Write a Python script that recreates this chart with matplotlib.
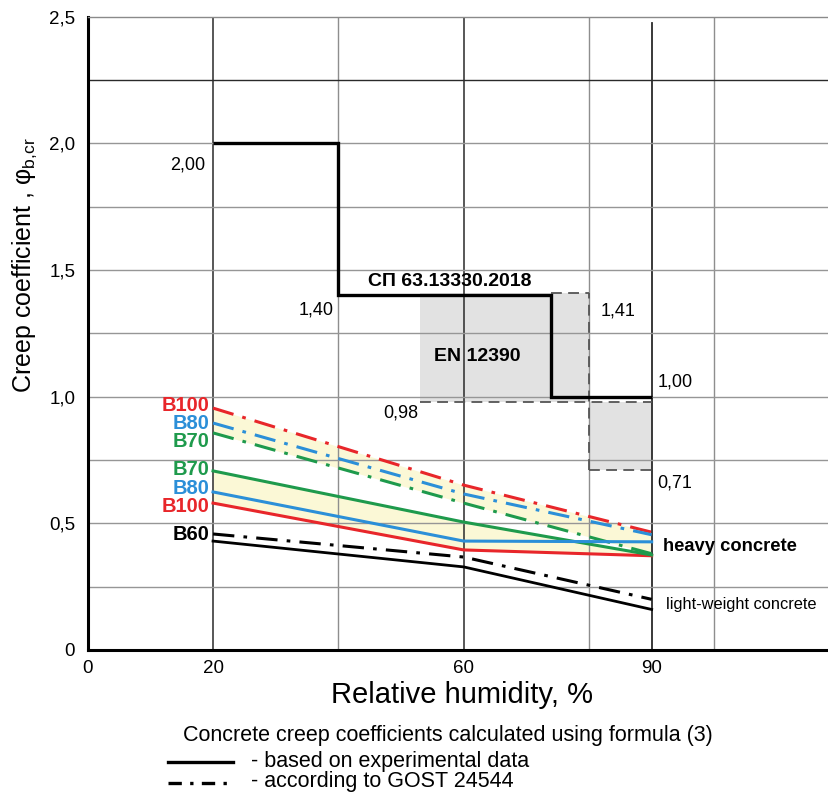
import matplotlib
matplotlib.use("Agg")
import matplotlib.pyplot as plt
from matplotlib.lines import Line2D

plt.rcParams['font.family'] = ['Liberation Sans', 'DejaVu Sans']

# relative humidity, %
hum = [20, 60, 90]

# formula (3), experimental data
b70_exp = [0.707, 0.505, 0.375]
b80_exp = [0.624, 0.43, 0.427]
b100_exp = [0.58, 0.395, 0.372]
b60_exp = [0.43, 0.328, 0.16]

# according to GOST 24544
b100_gost = [0.955, 0.651, 0.465]
b80_gost = [0.896, 0.616, 0.455]
b70_gost = [0.857, 0.58, 0.38]
b60_gost = [0.458, 0.367, 0.2]

# СП 63.13330.2018 step
sp_edges = [20, 40, 74, 90]
sp_vals = [2.0, 1.4, 1.0]

# EN 12390 ranges
en_edges = [53, 80, 90]
en_hi = [1.41, 0.98]
en_lo = [0.98, 0.71]

red = '#e8262a'
blue = '#2b8fd8'
green = '#1e9a4c'
cream = '#fbf8d6'
dd = (7, 3, 1.2, 3)

W, H = 829, 792
fig = plt.figure(figsize=(W / 100, H / 100), dpi=100)
x0, y0, ytop = 87.7, 650, 16.7
ax = fig.add_axes([x0 / W, (H - y0) / H, (W - x0) / W, (y0 - ytop) / H])
ax.set_xlim(0, 118.3)
ax.set_ylim(0, 2.5)

# grid
for x in [40, 80, 100]:
    ax.axvline(x, color='#8e8e8e', lw=1.0, zorder=2)
for x in [20, 60]:
    ax.axvline(x, color='#2a2a2a', lw=1.1, zorder=2)
ax.axvline(90, ymax=0.99, color='#2a2a2a', lw=1.3, zorder=2)
for y in [0.25, 0.5, 0.75, 1.0, 1.25, 1.5, 1.75, 2.0]:
    ax.axhline(y, color='#969696', lw=1.0, zorder=2)
ax.axhline(2.25, color='#2a2a2a', lw=1.0, zorder=2)

# shaded bands
ax.fill_between(hum, b70_exp, b100_exp, color=cream, lw=0, zorder=1)
ax.fill_between(hum, b100_gost, b70_gost, color=cream, lw=0, zorder=1)

# EN 12390 boxes
for i in range(2):
    ax.bar(en_edges[i], en_hi[i] - en_lo[i], bottom=en_lo[i],
           width=en_edges[i + 1] - en_edges[i], align='edge',
           color='#e2e2e2', lw=0, zorder=1)
dash_kw = dict(colors='#555555', linestyles=(0, (6, 3.5)), lw=1.3, zorder=3)
ax.hlines(en_lo[0], en_edges[0], en_edges[2], **dash_kw)
ax.hlines(en_hi[0], sp_edges[2], en_edges[1], **dash_kw)
ax.hlines(en_lo[1], en_edges[1], en_edges[2], **dash_kw)
ax.vlines(en_edges[1], en_lo[1], en_hi[0], **dash_kw)

# SP step line
ax.stairs(sp_vals, sp_edges, baseline=None, color='black', lw=2.4, zorder=5)

# GOST lines
ax.plot(hum, b100_gost, color=red, lw=2.2, dashes=dd, zorder=4)
ax.plot(hum, b80_gost, color=blue, lw=2.2, dashes=dd, zorder=4)
ax.plot(hum, b70_gost, color=green, lw=2.2, dashes=dd, zorder=4)
ax.plot(hum, b60_gost, color='black', lw=2.2, dashes=dd, zorder=4)

# experimental lines
ax.plot(hum, b100_exp, color=red, lw=2.2, zorder=4)
ax.plot(hum, b70_exp, color=green, lw=2.2, zorder=4)
ax.plot(hum, b80_exp, color=blue, lw=2.2, zorder=4)
ax.plot(hum, b60_exp, color='black', lw=2.0, zorder=4)

# labels in the plot
fs = 13
ax.text(18.7, 1.915, '2,00', ha='right', va='center', fontsize=fs)
ax.text(39.3, 1.342, '1,40', ha='right', va='center', fontsize=fs)
ax.text(44.7, 1.453, 'СП 63.13330.2018', ha='left', va='center', fontsize=14, fontweight='bold')
ax.text(55.3, 1.16, 'EN 12390', ha='left', va='center', fontsize=14, fontweight='bold')
ax.text(81.8, 1.338, '1,41', ha='left', va='center', fontsize=fs)
ax.text(52.7, 0.936, '0,98', ha='right', va='center', fontsize=fs)
ax.text(90.9, 1.058, '1,00', ha='left', va='center', fontsize=fs)
ax.text(90.9, 0.66, '0,71', ha='left', va='center', fontsize=fs)
ax.text(91.8, 0.407, 'heavy concrete', ha='left', va='center', fontsize=13.2, fontweight='bold')
ax.text(92.3, 0.178, 'light-weight concrete', ha='left', va='center', fontsize=11.8)

grade_labels = ['B100', 'B80', 'B70', 'B70', 'B80', 'B100', 'B60']
grade_colors = [red, blue, green, green, blue, red, 'black']
grade_y = [0.967, 0.896, 0.825, 0.711, 0.636, 0.565, 0.454]
for lab, c, y in zip(grade_labels, grade_colors, grade_y):
    ax.text(19.4, y, lab, ha='right', va='center', fontsize=14.5,
            fontweight='bold', color=c)

# axes
ax.set_xticks([0, 20, 60, 90])
ax.set_xticklabels(['0', '20', '60', '90'])
ax.set_yticks([0, 0.5, 1.0, 1.5, 2.0, 2.5])
ax.set_yticklabels(['0', '0,5', '1,0', '1,5', '2,0', '2,5'])
ax.tick_params(axis='both', length=0, labelsize=13.5)
ax.tick_params(axis='x', pad=7)
ax.tick_params(axis='y', pad=9)
ax.spines['right'].set_visible(False)
ax.spines['top'].set_color('#8a8a8a')
ax.spines['top'].set_linewidth(1.0)
ax.spines['left'].set_linewidth(2.2)
ax.spines['bottom'].set_linewidth(2.2)

fig.text(25 / W, 1 - 265 / H, 'Creep coefficient , φ$_{\\mathregular{b{,}cr}}$',
         rotation=90, ha='center', va='center', fontsize=18)
fig.text(462 / W, 1 - 695 / H, 'Relative humidity, %', ha='center', va='center', fontsize=21)

# legend
fig.text(448 / W, 1 - 736 / H, 'Concrete creep coefficients calculated using formula (3)',
         ha='center', va='center', fontsize=15.5)
fig.add_artist(Line2D([168 / W, 233 / W], [1 - 762 / H, 1 - 762 / H], color='black', lw=2.4))
fig.add_artist(Line2D([168 / W, 233 / W], [1 - 783 / H, 1 - 783 / H], color='black', lw=2.4,
                      dashes=(4, 2.5, 1, 2.5)))
fig.text(251 / W, 1 - 761 / H, '- based on experimental data', ha='left', va='center', fontsize=15.5)
fig.text(251 / W, 1 - 782 / H, '- according to GOST 24544', ha='left', va='center', fontsize=15.5)

fig.savefig('out.png', dpi=100)
